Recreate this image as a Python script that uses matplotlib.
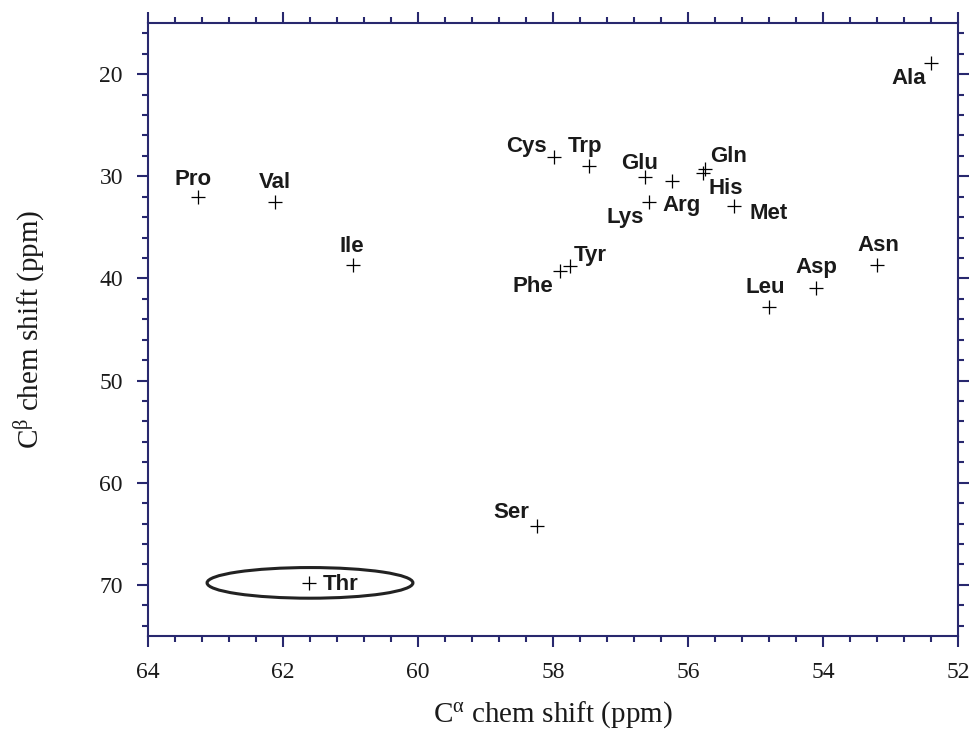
import matplotlib
matplotlib.use('Agg')
import matplotlib.pyplot as plt
from matplotlib.patches import Ellipse
from matplotlib.ticker import MultipleLocator

plt.rcParams['font.family'] = 'Liberation Serif'
plt.rcParams['mathtext.fontset'] = 'custom'
plt.rcParams['mathtext.rm'] = 'Liberation Serif'
plt.rcParams['mathtext.default'] = 'regular'

# residue names and average chemical shifts (ppm)
residues = ['Ala', 'Pro', 'Val', 'Ile', 'Cys', 'Trp', 'Glu', 'Gln', 'His', 'Arg',
            'Lys', 'Met', 'Tyr', 'Phe', 'Leu', 'Asp', 'Asn', 'Ser', 'Thr']
ca_shift = [52.40, 63.26, 62.12, 60.97, 57.99, 57.47, 56.63, 55.75, 55.78, 56.24,
            56.58, 55.32, 57.75, 57.90, 54.80, 54.10, 53.20, 58.24, 61.61]
cb_shift = [18.9, 32.0, 32.5, 38.7, 28.1, 29.0, 30.1, 29.3, 29.7, 30.5,
            32.5, 32.9, 38.8, 39.3, 42.8, 40.9, 38.7, 64.2, 69.8]

# label placement: (dx px, dy px, ha)
label_pos = {
    'Ala': (-5, -21, 'right'), 'Pro': (-5, 12, 'center'), 'Val': (0, 14, 'center'),
    'Ile': (-1, 13, 'center'), 'Cys': (-7, 5, 'right'), 'Trp': (-4, 14, 'center'),
    'Glu': (-6, 8, 'center'), 'Gln': (5, 7, 'left'), 'His': (6, -21, 'left'),
    'Arg': (10, -30, 'center'), 'Lys': (-5, -21, 'right'), 'Met': (16, -13, 'left'),
    'Tyr': (4, 5, 'left'), 'Phe': (-7, -21, 'right'), 'Leu': (-4, 14, 'center'),
    'Asp': (0, 15, 'center'), 'Asn': (1, 14, 'center'), 'Ser': (-8, 8, 'right'),
    'Thr': (13, -7, 'left'),
}

navy = '#28286e'
fig = plt.figure(figsize=(9.7, 7.35), dpi=100)
ax = fig.add_axes([148 / 970, 99 / 735, 810 / 970, 613 / 735])

ax.plot(ca_shift, cb_shift, '+', color='black', markersize=10, mew=0.9)
for name, x, y in zip(residues, ca_shift, cb_shift):
    dx, dy, ha = label_pos[name]
    ax.annotate(name, (x, y), xytext=(dx, dy), textcoords='offset pixels',
                ha=ha, va='baseline', fontsize=16, fontweight='bold',
                family='Liberation Sans', color='#1a1a1a')

# Thr highlighted
ax.add_patch(Ellipse((61.6, 69.8), 3.05, 3.0, fill=False, color='#222222', lw=2.2))

ax.set_xlim(64, 52)
ax.set_ylim(75, 15)
ax.xaxis.set_major_locator(MultipleLocator(2))
ax.xaxis.set_minor_locator(MultipleLocator(0.4))
ax.yaxis.set_major_locator(MultipleLocator(10))
ax.yaxis.set_minor_locator(MultipleLocator(2))
ax.yaxis.set_major_formatter(plt.FuncFormatter(lambda v, p: '%d' % v if v < 75 else ''))

for s in ax.spines.values():
    s.set_color(navy)
    s.set_linewidth(1.5)
ax.tick_params(which='both', direction='out', top=True, right=True, color=navy, width=1.5,
               labelsize=17, labelcolor='#1a1a1a')
ax.tick_params(which='major', length=8)
ax.tick_params(which='minor', length=4.3)
ax.tick_params(axis='x', which='major', pad=11, labeltop=False)
ax.tick_params(axis='y', which='major', pad=10, labelright=False)

ax.set_xlabel(r'C$^{\alpha}$ chem shift (ppm)', fontsize=21, color='#1a1a1a')
ax.set_ylabel(r'C$^{\beta}$ chem shift (ppm)', fontsize=21, color='#1a1a1a')
ax.xaxis.set_label_coords(0.5, -0.104)
ax.yaxis.set_label_coords(-0.125, 0.5)

fig.savefig('out.png', dpi=100)
